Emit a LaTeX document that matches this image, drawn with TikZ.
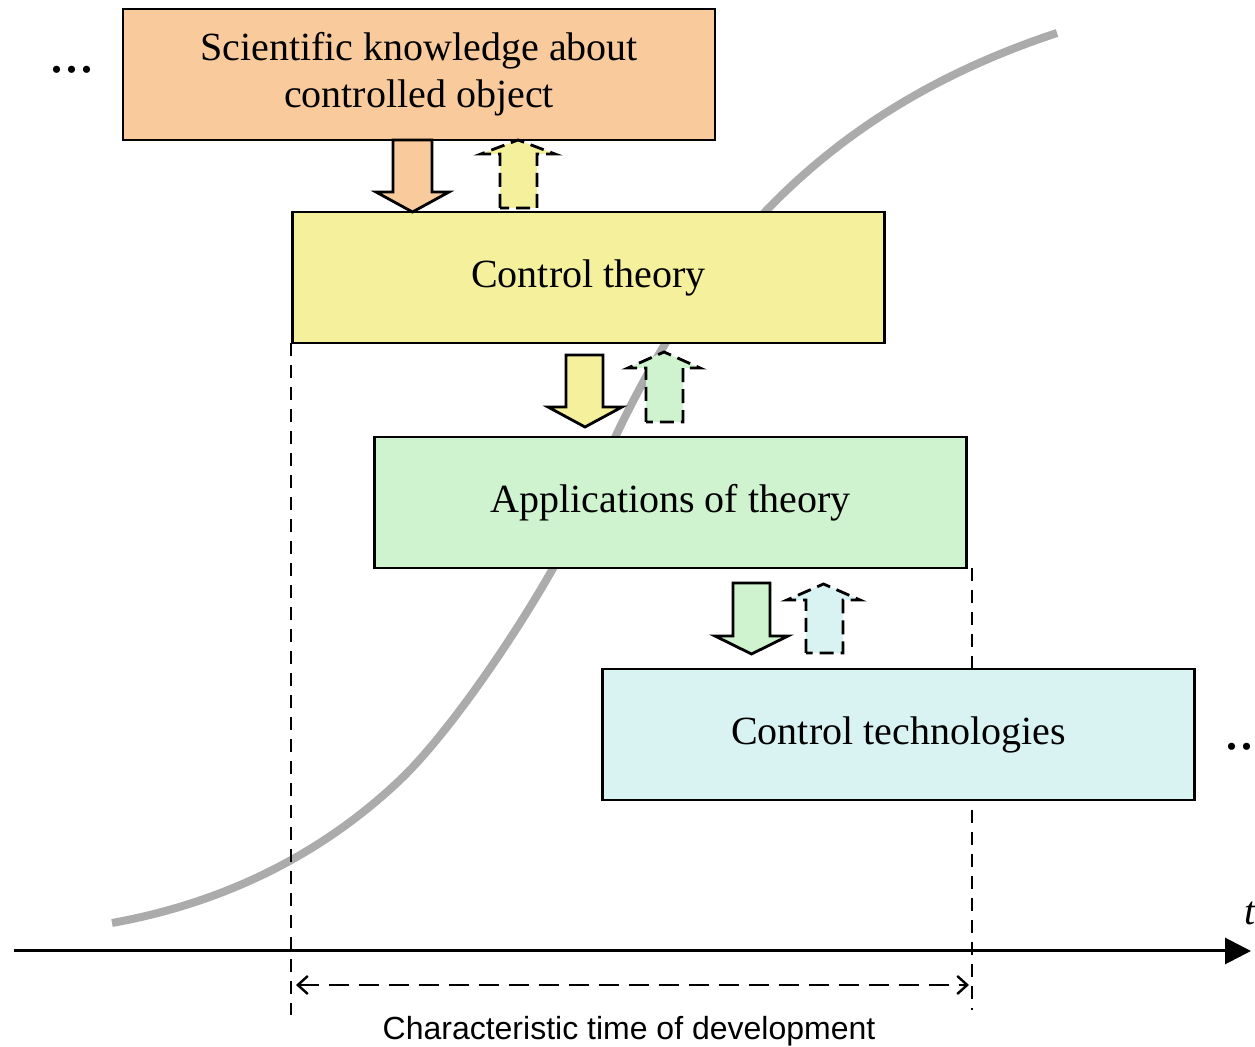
\documentclass[tikz,border=0pt]{standalone}
\usepackage{fontspec}
\setmainfont{Liberation Serif}
\setsansfont{Liberation Sans}
\usetikzlibrary{arrows.meta}
\definecolor{cpeach}{HTML}{F9CB9C}
\definecolor{cyellow}{HTML}{F5F09C}
\definecolor{cgreen}{HTML}{CFF2CF}
\definecolor{ccyan}{HTML}{D9F3F3}
\definecolor{ccurve}{HTML}{ABABAB}
\tikzset{
  box/.style={draw=black, line width=1.1pt, minimum width=296pt, minimum height=65.5pt, inner sep=0pt,
    align=center, font=\fontsize{20}{23.5}\selectfont},
  downarr/.style={draw=black, line width=1.4pt, line join=miter},
  uparr/.style={draw=black, line width=1.4pt, dash pattern=on 7pt off 3.5pt},
  guide/.style={line width=0.75pt, dash pattern=on 6.5pt off 4.5pt},
  dotsnode/.style={font=\fontsize{30}{30}\selectfont, inner sep=0pt, anchor=base}
}
\begin{document}
\begin{tikzpicture}[x=0.5pt,y=-0.5pt]
\useasboundingbox (0,0) rectangle (1255,1047);
% S-curve
\draw[ccurve, line width=4pt] (112,923) .. controls (222,903.2) and (320,856) .. (400,780)
   .. controls (460,723) and (555,577) .. (585,505)
   .. controls (675,289) and (797,118.8) .. (1057,33);
% guide lines
\coordinate (g1t) at (291,343); \coordinate (g1b) at (291,1015);
\coordinate (g2t) at (972,568); \coordinate (g2b) at (972,1010);
\draw[guide] (g1t) -- (g1b);
\draw[guide] (g2t) -- (g2b);
% boxes
\node[box, fill=cpeach] (b1) at (419,74.5) {Scientific knowledge about\\controlled object};
\node[box, fill=cyellow] (b2) at (588.5,277.5) {Control theory};
\node[box, fill=cgreen] (b3) at (670.5,502.5) {Applications of theory};
\node[box, fill=ccyan] (b4) at (898.5,734.5) {Control technologies};
% block arrows 1
\draw[downarr, fill=cpeach] (393,140) -- (432,140) -- (432,192) -- (449,192) -- (412.5,212) -- (376,192) -- (393,192) -- cycle;
\fill[cyellow] (500,208) -- (500,154) -- (481,154) -- (518,140) -- (555,154) -- (537,154) -- (537,208) -- cycle;
\draw[uparr] (500,208) -- (500,154) -- (481,154) -- (518,140) -- (555,154) -- (537,154) -- (537,208) -- cycle;
% block arrows 2
\draw[downarr, fill=cyellow] (566,355) -- (603,355) -- (603,407) -- (622,407) -- (585,427) -- (548,407) -- (566,407) -- cycle;
\fill[cgreen] (646,422) -- (646,368) -- (628,368) -- (664,352) -- (700,368) -- (683,368) -- (683,422) -- cycle;
\draw[uparr] (646,422) -- (646,368) -- (628,368) -- (664,352) -- (700,368) -- (683,368) -- (683,422) -- cycle;
% block arrows 3
\draw[downarr, fill=cgreen] (733,583) -- (770,583) -- (770,636) -- (788,636) -- (751.5,654) -- (715,636) -- (733,636) -- cycle;
\fill[ccyan] (806,653) -- (806,600) -- (787,600) -- (823.5,584) -- (860,600) -- (843,600) -- (843,653) -- cycle;
\draw[uparr] (806,653) -- (806,600) -- (787,600) -- (823.5,584) -- (860,600) -- (843,600) -- (843,653) -- cycle;
% axis
\coordinate (ax0) at (14,951); \coordinate (ax1) at (1251,951);
\draw[line width=1.5pt, -{Triangle[length=13pt,width=13pt]}] (ax0) -- (ax1);
\node[anchor=base west, inner sep=0pt, font=\fontsize{20}{20}\selectfont\itshape] (tl) at (1244,925) {t};
% characteristic time
\coordinate (c0) at (296,985); \coordinate (c1) at (969,985);
\draw[line width=1.2pt, dash pattern=on 10pt off 5pt, {Straight Barb[length=5pt,width=9pt]}-{Straight Barb[length=5pt,width=9pt]}] (c0) -- (c1);
\node[anchor=base, inner sep=0pt, font=\sffamily\fontsize{16}{16}\selectfont] (cap) at (629,1040) {Characteristic time of development};
% dots
\node[dotsnode] (dl) at (72,72.5) {...};
\node[dotsnode] (dr) at (1247,750) {...};
\end{tikzpicture}
\end{document}
